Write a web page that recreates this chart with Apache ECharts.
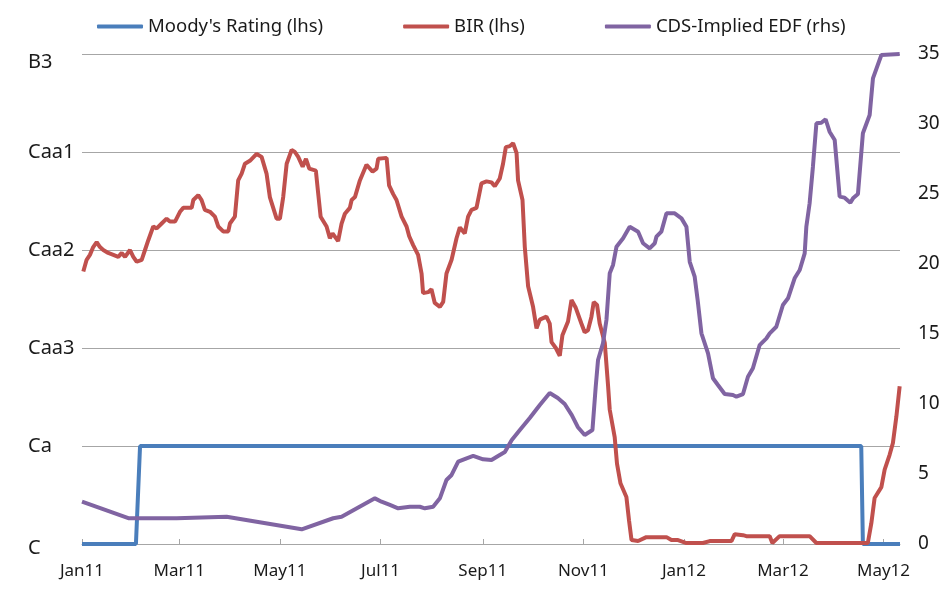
<!DOCTYPE html>
<html>
<head>
<meta charset="utf-8">
<script src="https://cdn.jsdelivr.net/npm/echarts@6/dist/echarts.min.js"></script>
<style>
  html, body { margin: 0; padding: 0; background: #fff; }
  #main { width: 945px; height: 589px; }
</style>
</head>
<body>
<div id="main"></div>
<script>
// x values are days since 1 Jan 2011
var ratingLabels = ['C', 'Ca', 'Caa3', 'Caa2', 'Caa1', 'B3'];
var monthDays = [0, 59, 120, 181, 243, 304, 365, 425, 486];
var monthLabels = ['Jan11', 'Mar11', 'May11', 'Jul11', 'Sep11', 'Nov11', 'Jan12', 'Mar12', 'May12'];

// Moody's rating, in rating notches above C (lhs)
var moodysPoints = [[0, 0], [32.7, 0], [35.2, 1], [472.5, 1], [473.5, 0], [496, 0]];

// BIR, in rating notches above C (lhs)
var birPoints = [
  [0.8, 2.78], [2.8, 2.90], [4.8, 2.95], [6.8, 3.03], [8.9, 3.08], [10.9, 3.03], [12.9, 3.0],
  [15.9, 2.97], [19.0, 2.95], [22.0, 2.93], [24.1, 2.97], [26.1, 2.93], [29.1, 3.0], [31.1, 2.93],
  [33.2, 2.88], [36.2, 2.90], [38.2, 3.0], [40.2, 3.10], [43.2, 3.24], [45.3, 3.22], [48.3, 3.27],
  [51.3, 3.32], [53.3, 3.29], [56.4, 3.29], [59.4, 3.39], [61.4, 3.43], [66.5, 3.43], [67.5, 3.51],
  [70.5, 3.56], [72.5, 3.51], [74.5, 3.41], [77.6, 3.39], [80.6, 3.34], [82.6, 3.24], [85.6, 3.19],
  [88.7, 3.19], [89.7, 3.27], [92.7, 3.34], [94.7, 3.71], [96.8, 3.78], [98.8, 3.88], [101.8, 3.91],
  [105.9, 3.98], [108.9, 3.95], [111.9, 3.78], [113.9, 3.54], [118.0, 3.32], [120.0, 3.32],
  [122.0, 3.54], [124.1, 3.88], [127.1, 4.02], [129.1, 4.0], [131.1, 3.95], [133.8, 3.85],
  [135.8, 3.93], [137.8, 3.83], [141.8, 3.81], [143.2, 3.58], [144.7, 3.34], [148.3, 3.24],
  [150.3, 3.12], [151.9, 3.17], [155.3, 3.09], [157.4, 3.27], [159.4, 3.37], [162.4, 3.43],
  [163.5, 3.51], [165.5, 3.54], [168.5, 3.71], [172.5, 3.87], [176.2, 3.80], [178.6, 3.83],
  [179.6, 3.93], [184.7, 3.94], [186.2, 3.66], [188.7, 3.57], [190.7, 3.51], [193.8, 3.34],
  [196.8, 3.24], [198.4, 3.14], [200.8, 3.05], [203.8, 2.95], [205.9, 2.76], [206.8, 2.56],
  [209.9, 2.57], [211.9, 2.60], [213.9, 2.46], [217.0, 2.42], [219.0, 2.47], [221.0, 2.76],
  [224.1, 2.90], [227.1, 3.12], [229.1, 3.23], [232.1, 3.17], [234.1, 3.34], [236.2, 3.41],
  [239.2, 3.43], [242.2, 3.68], [245.3, 3.70], [248.3, 3.69], [250.3, 3.65], [253.3, 3.73],
  [255.3, 3.88], [257.0, 4.05], [259.4, 4.06], [261.4, 4.09], [263.5, 3.99], [264.4, 3.71],
  [267.1, 3.51], [268.5, 3.03], [270.5, 2.63], [273.5, 2.42], [275.6, 2.20], [277.6, 2.29],
  [281.6, 2.32], [283.6, 2.25], [284.7, 2.06], [287.3, 2.0], [289.7, 1.92], [291.3, 2.13],
  [294.7, 2.27], [296.8, 2.49], [299.4, 2.41], [302.8, 2.25], [304.8, 2.16], [306.8, 2.18],
  [308.9, 2.32], [310.3, 2.47], [312.3, 2.44], [313.9, 2.25], [317.0, 2.05], [319.0, 1.61],
  [320.0, 1.37], [323.0, 1.09], [324.4, 0.82], [326.5, 0.62], [330.1, 0.48], [331.7, 0.24],
  [333.2, 0.04], [337.2, 0.03], [342.2, 0.07], [354.4, 0.07], [357.4, 0.04], [361.4, 0.04],
  [366.5, 0.01], [376.5, 0.01], [380.6, 0.03], [393.8, 0.03], [395.8, 0.10], [400.8, 0.09],
  [402.8, 0.08], [417.0, 0.08], [418.6, 0.01], [423.0, 0.08], [441.2, 0.08], [445.3, 0.01],
  [476.5, 0.01], [478.6, 0.21], [480.6, 0.47], [484.7, 0.58], [486.7, 0.76], [489.7, 0.91],
  [491.7, 1.03], [493.8, 1.30], [495.8, 1.61]
];

// CDS-implied EDF, percent (rhs)
var edfPoints = [
  [0, 3.02], [28.1, 1.84], [57.4, 1.84], [87.7, 1.95], [133.2, 1.05], [152.3, 1.84], [157.4, 1.95],
  [177.6, 3.26], [181.6, 3.02], [186.7, 2.79], [191.7, 2.55], [198.8, 2.66], [204.8, 2.66],
  [207.9, 2.55], [212.9, 2.66], [217.0, 3.26], [221.0, 4.57], [224.1, 4.93], [228.1, 5.88],
  [233.2, 6.12], [237.2, 6.29], [243.2, 6.05], [248.3, 6.0], [252.3, 6.29], [256.4, 6.57],
  [260.6, 7.43], [265.5, 8.14], [271.5, 9.0], [277.6, 9.93], [283.6, 10.79], [288.5, 10.43],
  [292.7, 10.0], [297.0, 9.21], [300.6, 8.36], [301.8, 8.5], [304.8, 7.79], [309.5, 8.14],
  [311.5, 11.24], [312.9, 13.14], [315.9, 14.34], [318.0, 16.0], [320.0, 19.34], [322.0, 19.93],
  [324.1, 21.24], [328.1, 21.84], [332.1, 22.66], [337.2, 22.31], [340.2, 21.48], [344.2, 21.12],
  [347.3, 21.48], [348.3, 21.95], [351.3, 22.31], [354.4, 23.62], [359.4, 23.62], [363.5, 23.26],
  [366.5, 22.66], [368.5, 20.16], [371.5, 19.09], [373.3, 17.43], [375.6, 15.05], [379.6, 13.62],
  [382.6, 11.84], [385.6, 11.36], [389.7, 10.71], [394.7, 10.64], [396.8, 10.52], [400.8, 10.71],
  [403.8, 11.95], [406.8, 12.55], [410.9, 14.21], [415.0, 14.69], [417.0, 15.05], [421.0, 15.52],
  [425.0, 17.07], [428.1, 17.55], [432.1, 18.98], [435.2, 19.57], [438.2, 20.76], [439.2, 22.66],
  [441.2, 24.34], [443.2, 26.95], [445.3, 30.05], [448.3, 30.09], [450.9, 30.34], [453.3, 29.45],
  [456.4, 28.86], [459.4, 24.81], [462.4, 24.74], [465.9, 24.38], [467.5, 24.69], [470.5, 25.0],
  [473.5, 29.34], [477.6, 30.64], [479.6, 33.26], [484.7, 34.93], [485.6, 35.0], [495.8, 35.0]
];

var font = 'Noto Sans';
var gridGray = '#A6A6A6';
var textColor = '#1a1a1a';

var myChart = echarts.init(document.getElementById('main'));
var option = {
  backgroundColor: '#fff',
  animation: false,
  textStyle: { fontFamily: font },
  legend: {
    left: 92,
    top: 12,
    itemWidth: 46,
    itemHeight: 4,
    itemGap: 80,
    textStyle: { fontFamily: font, fontSize: 18.5, color: textColor },
    data: [
      { name: "Moody's Rating (lhs)", icon: 'roundRect' },
      { name: 'BIR (lhs)', icon: 'roundRect' },
      { name: 'CDS-Implied EDF (rhs)', icon: 'roundRect' }
    ]
  },
  grid: { left: 82, right: 45, top: 54, bottom: 45 },
  xAxis: [
    {
      type: 'value', min: 0, max: 496, position: 'bottom',
      axisLine: { show: false },
      axisTick: { show: false },
      splitLine: { show: false },
      axisLabel: {
        customValues: monthDays,
        margin: 19,
        fontSize: 17,
        color: textColor,
        fontFamily: font,
        formatter: function (v) {
          var i = monthDays.indexOf(v);
          return i >= 0 ? monthLabels[i] : '';
        }
      }
    },
    {
      type: 'value', min: 0, max: 496, position: 'top',
      axisLine: { show: true, lineStyle: { color: gridGray, width: 1 } },
      axisTick: { show: true, customValues: monthDays, length: 5, lineStyle: { color: gridGray } },
      axisLabel: { show: false },
      splitLine: { show: false }
    }
  ],
  yAxis: [
    {
      type: 'value', min: 0, max: 5, interval: 1, position: 'left',
      axisLine: { show: false },
      axisTick: { show: false },
      splitLine: { show: true, lineStyle: { color: gridGray, width: 1 } },
      axisLabel: {
        align: 'left',
        margin: 54,
        fontSize: 20,
        color: textColor,
        fontFamily: font,
        formatter: function (v) {
          if (v === 5) return '{top|' + ratingLabels[v] + '}';
          if (v === 0) return '{bot|' + ratingLabels[v] + '}';
          return ratingLabels[v];
        },
        rich: {
          top: { fontSize: 20, color: textColor, fontFamily: font, padding: [16, 0, 0, 0] },
          bot: { fontSize: 20, color: textColor, fontFamily: font, padding: [8, 0, 0, 0] }
        }
      }
    },
    {
      type: 'value', min: 0, max: 35, interval: 5, position: 'right',
      axisLine: { show: false },
      axisTick: { show: false },
      splitLine: { show: false },
      axisLabel: { margin: 18, fontSize: 19, color: textColor, fontFamily: font }
    }
  ],
  series: [
    {
      name: "Moody's Rating (lhs)",
      type: 'line',
      yAxisIndex: 0,
      symbol: 'none',
      data: moodysPoints,
      itemStyle: { color: '#4A7EBB' },
      lineStyle: { color: '#4A7EBB', width: 4 }
    },
    {
      name: 'BIR (lhs)',
      type: 'line',
      yAxisIndex: 0,
      symbol: 'none',
      data: birPoints,
      itemStyle: { color: '#C0504D' },
      lineStyle: { color: '#C0504D', width: 4 }
    },
    {
      name: 'CDS-Implied EDF (rhs)',
      type: 'line',
      yAxisIndex: 1,
      symbol: 'none',
      data: edfPoints,
      itemStyle: { color: '#8064A2' },
      lineStyle: { color: '#8064A2', width: 4 }
    }
  ]
};
myChart.setOption(option);
</script>
</body>
</html>
